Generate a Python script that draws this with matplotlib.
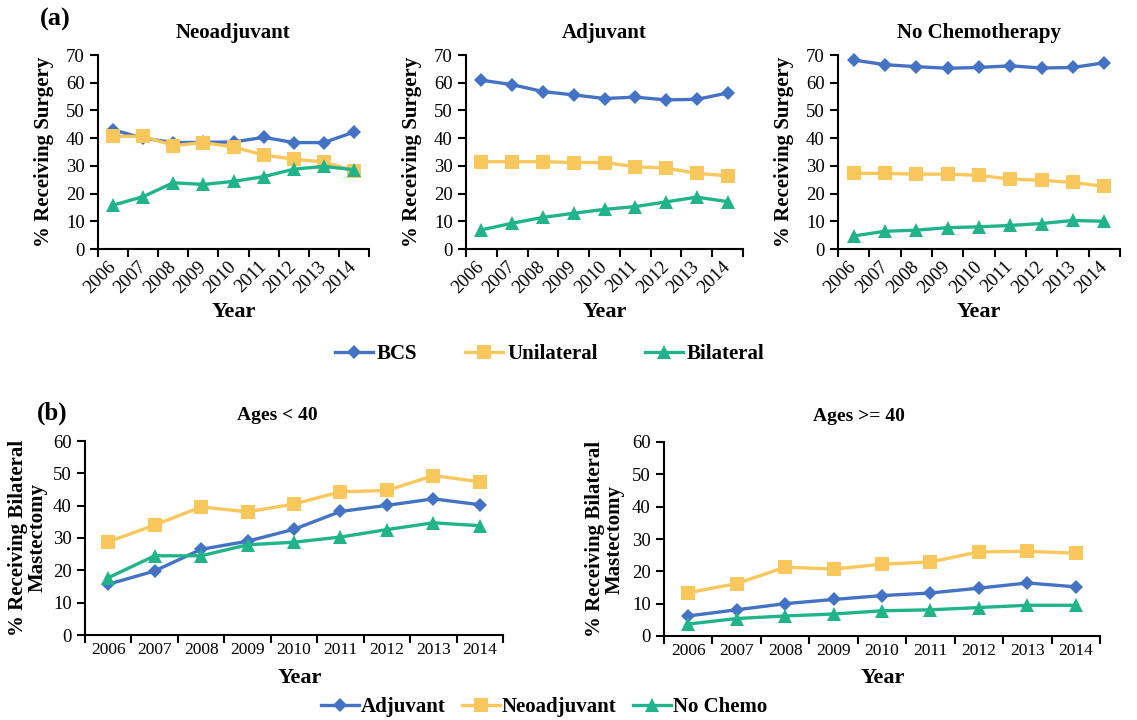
import matplotlib
matplotlib.use("Agg")
import matplotlib.pyplot as plt

plt.rcParams["font.family"] = ["Liberation Serif", "DejaVu Serif"]

W, H = 1137, 720

YEARS = ["2006", "2007", "2008", "2009", "2010", "2011", "2012", "2013", "2014"]

# (a) % receiving surgery, by chemotherapy group
NEO_BCS = [43.0, 40.0, 38.4, 38.5, 38.6, 40.3, 38.4, 38.4, 42.2]
NEO_UNI = [40.6, 40.7, 37.3, 38.4, 36.8, 33.9, 32.4, 31.4, 28.3]
NEO_BIL = [15.8, 18.9, 23.9, 23.3, 24.4, 26.1, 28.8, 29.8, 28.6]

ADJ_BCS = [60.9, 59.3, 56.8, 55.6, 54.3, 54.8, 53.8, 54.0, 56.3]
ADJ_UNI = [31.5, 31.5, 31.5, 31.2, 31.2, 29.7, 29.2, 27.3, 26.4]
ADJ_BIL = [6.9, 9.3, 11.4, 12.9, 14.3, 15.3, 17.0, 18.7, 17.1]

NOC_BCS = [68.2, 66.5, 65.8, 65.2, 65.5, 66.1, 65.3, 65.5, 67.2]
NOC_UNI = [27.3, 27.3, 27.0, 27.0, 26.6, 25.2, 24.8, 24.0, 22.6]
NOC_BIL = [4.7, 6.4, 6.8, 7.7, 8.0, 8.5, 9.2, 10.3, 10.0]

# (b) % receiving bilateral mastectomy, by age
YOUNG_ADJ = [15.7, 19.8, 26.5, 29.0, 32.7, 38.2, 40.1, 42.1, 40.3]
YOUNG_NEO = [28.8, 34.0, 39.6, 38.1, 40.5, 44.3, 44.7, 49.3, 47.4]
YOUNG_NOC = [17.7, 24.5, 24.5, 27.9, 28.7, 30.3, 32.6, 34.7, 33.8]

OLD_ADJ = [6.2, 8.1, 10.0, 11.3, 12.5, 13.3, 14.8, 16.4, 15.2]
OLD_NEO = [13.4, 16.2, 21.3, 20.7, 22.2, 22.9, 26.0, 26.2, 25.6]
OLD_NOC = [3.7, 5.4, 6.2, 6.8, 7.8, 8.1, 8.8, 9.5, 9.5]

BLUE = "#4472C4"
YELLOW = "#F9C75B"
GREEN = "#21B48A"

STYLES = [
    dict(color=BLUE, marker="D", markersize=7),
    dict(color=YELLOW, marker="s", markersize=10.5),
    dict(color=GREEN, marker="^", markersize=10.5),
]


def add_axes(fig, left, right, top, bottom):
    return fig.add_axes([left / W, 1 - bottom / H, (right - left) / W, (bottom - top) / H])


def setup(ax, ymax, rotate):
    n = len(YEARS)
    ax.set_xlim(-0.5, n - 0.5)
    ax.set_ylim(0, ymax)
    ax.set_yticks(range(0, ymax + 1, 10))
    ax.set_xticks([i - 0.5 for i in range(n + 1)])
    ax.set_xticklabels([])
    ax.set_xticks(range(n), minor=True)
    if rotate:
        ax.set_xticklabels(YEARS, minor=True, rotation=45, ha="right", va="center",
                           rotation_mode="anchor")
        ax.tick_params(axis="x", which="minor", length=0, pad=11, labelsize=13.5)
    else:
        ax.set_xticklabels(YEARS, minor=True)
        ax.tick_params(axis="x", which="minor", length=0, pad=5, labelsize=12.5)
    ax.tick_params(axis="both", which="major", direction="out", length=6, width=1.5,
                   labelsize=13.5, colors="black")
    for s in ("top", "right"):
        ax.spines[s].set_visible(False)
    for s in ("left", "bottom"):
        ax.spines[s].set_linewidth(1.5)


def draw(ax, series, labels):
    lines = []
    for vals, st, lab in zip(series, STYLES, labels):
        (ln,) = ax.plot(range(len(YEARS)), vals, linewidth=2.4, label=lab,
                        markeredgewidth=0, clip_on=False, **st)
        lines.append(ln)
    return lines


def main():
    fig = plt.figure(figsize=(W / 100, H / 100), dpi=100)

    a_labels = ["BCS", "Unilateral", "Bilateral"]
    panels_a = [
        ("Neoadjuvant", (98, 369), [NEO_BCS, NEO_UNI, NEO_BIL]),
        ("Adjuvant", (466, 743), [ADJ_BCS, ADJ_UNI, ADJ_BIL]),
        ("No Chemotherapy", (838, 1120), [NOC_BCS, NOC_UNI, NOC_BIL]),
    ]
    for title, (l, r), series in panels_a:
        ax = add_axes(fig, l, r, 55, 249)
        setup(ax, 70, rotate=True)
        lines = draw(ax, series, a_labels)
        ax.set_title(title, fontsize=15, fontweight="bold", pad=12)
        ax.set_ylabel("% Receiving Surgery", fontsize=15, fontweight="bold")
        ax.yaxis.set_label_coords(-44 / (r - l), 0.5)
        ax.set_xlabel("Year", fontsize=16, fontweight="bold")
        ax.xaxis.set_label_coords(0.5, -(302 - 249) / 194)

    fig.legend(lines, a_labels, loc="center", bbox_to_anchor=(550 / W, 1 - 354 / H),
               ncol=3, frameon=False, handlelength=1.8, columnspacing=2.3,
               handletextpad=0.2, prop=dict(size=15, weight="bold"))

    b_labels = ["Adjuvant", "Neoadjuvant", "No Chemo"]
    panels_b = [
        ("Ages < 40", (85, 503, 441, 635), [YOUNG_ADJ, YOUNG_NEO, YOUNG_NOC], 277, 37, 300),
        ("Ages >= 40", (664, 1100, 442, 636), [OLD_ADJ, OLD_NEO, OLD_NOC], 859, 39, 883),
    ]
    for title, (l, r, t, b), series, tx, ylab_off, xlab_x in panels_b:
        ax = add_axes(fig, l, r, t, b)
        setup(ax, 60, rotate=False)
        lines = draw(ax, series, b_labels)
        ax.set_title(title, fontsize=14, fontweight="bold", pad=15,
                     x=(tx - l) / (r - l))
        ax.set_ylabel("% Receiving Bilateral\nMastectomy", fontsize=15,
                      fontweight="bold", linespacing=1.0)
        ax.yaxis.set_label_coords(-ylab_off / (r - l), 0.5)
        ax.set_xlabel("Year", fontsize=16, fontweight="bold")
        ax.xaxis.set_label_coords((xlab_x - l) / (r - l), -(668 - b) / (b - t))

    fig.legend(lines, b_labels, loc="center", bbox_to_anchor=(544 / W, 1 - 707 / H),
               ncol=3, frameon=False, handlelength=1.8, columnspacing=0.8,
               handletextpad=0.1, prop=dict(size=15, weight="bold"))

    fig.text(40 / W, 1 - 19 / H, "(a)", fontsize=19, fontweight="bold", va="center")
    fig.text(37 / W, 1 - 413 / H, "(b)", fontsize=18, fontweight="bold", va="center")

    fig.savefig("out.png", dpi=100)


if __name__ == "__main__":
    main()
